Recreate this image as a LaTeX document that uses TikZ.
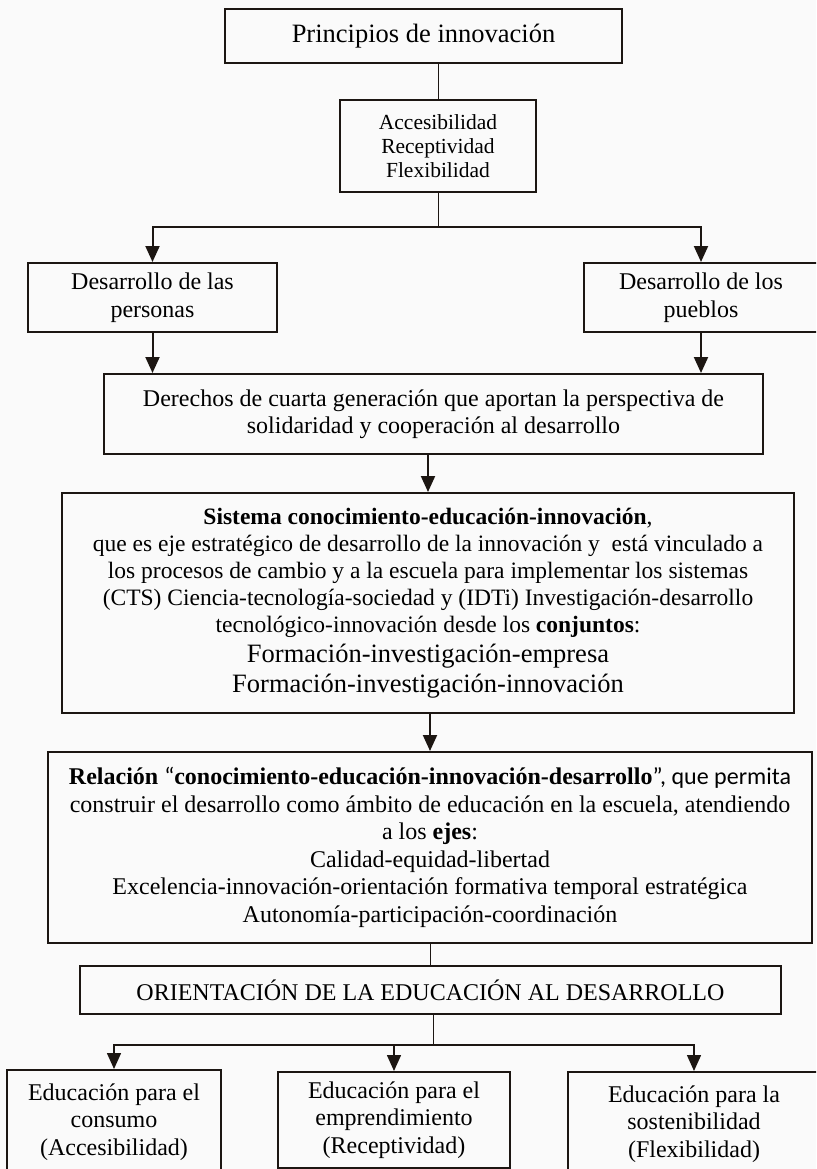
\documentclass[tikz,border=0pt]{standalone}
\usepackage{fontspec}
\setmainfont{Liberation Serif}
\newfontfamily\calfont{Carlito}
\usepackage{tikz}
\usetikzlibrary{arrows.meta}
\definecolor{edge}{RGB}{28,22,18}
\definecolor{paper}{RGB}{250,250,250}

\begin{document}
\begin{tikzpicture}[x=1pt,y=-1pt,
  box/.style={draw=edge, line width=2pt, align=center, inner sep=0pt,
    font=\fontsize{24}{27.5}\selectfont},
  arr/.style={draw=edge, line width=2pt, -{Triangle[width=14pt,length=16pt]}},
  link/.style={draw=edge, line width=1pt}]
\fill[paper] (0,0) rectangle (816,1169);
\useasboundingbox (0,0) rectangle (816,1169);
\clip (0,0) rectangle (816,1169);

\node[box, minimum width=397, minimum height=54, font=\fontsize{26.5}{30}\selectfont] (prin) at (423.5,36) {Principios de innovación};
\node[box, minimum width=196, minimum height=92, font=\fontsize{21.5}{24}\selectfont] (ejes) at (438,146) {Accesibilidad\\Receptividad\\Flexibilidad};
\node[box, minimum width=249, minimum height=69, font=\fontsize{24}{28}\selectfont] (pers) at (152.5,297.5) {Desarrollo de las\\personas};
\node[box, minimum width=234, minimum height=69, font=\fontsize{24}{28}\selectfont] (pueb) at (701,297.5) {Desarrollo de los\\pueblos};
\node[box, minimum width=659, minimum height=80, font=\fontsize{24}{27}\selectfont] (dere) at (433.5,414) {Derechos de cuarta generación que aportan la perspectiva de\\solidaridad y cooperación al desarrollo};
\node[box, minimum width=732, minimum height=220, font=\fontsize{23.5}{27}\selectfont] (sist) at (428,603) {\textbf{Sistema conocimiento-educación-innovación},\\
  que es eje estratégico de desarrollo de la innovación y \ está vinculado a\\
  los procesos de cambio y a la escuela para implementar los sistemas\\
  (CTS) Ciencia-tecnología-sociedad y (IDTi) Investigación-desarrollo\\
  tecnológico-innovación desde los \textbf{conjuntos}:\\[3pt]
  {\fontsize{26.5}{30}\selectfont Formación-investigación-empresa}\\[3pt]
  {\fontsize{26.5}{30}\selectfont Formación-investigación-innovación}};
\node[box, minimum width=764, minimum height=191] (rela) at (430,847.5) {\textbf{Relación} {\calfont “}\textbf{conocimiento-educación-innovación-desarrollo}{\calfont ”, que permita}\\
  construir el desarrollo como ámbito de educación en la escuela, atendiendo\\
  a los \textbf{ejes}:\\
  Calidad-equidad-libertad\\
  Excelencia-innovación-orientación formativa temporal estratégica\\
  Autonomía-participación-coordinación};
\node[box, minimum width=701, minimum height=48] (orie) at (430.5,990) {ORIENTACIÓN DE LA EDUCACIÓN AL DESARROLLO};
\node[box, minimum width=214, minimum height=104] (cons) at (114,1122) {Educación para el\\consumo\\(Accesibilidad)};
\node[box, minimum width=232, minimum height=96] (empr) at (394,1120) {Educación para el\\emprendimiento\\(Receptividad)};
\node[box, minimum width=252, minimum height=104] (sost) at (694,1124) {Educación para la\\sostenibilidad\\(Flexibilidad)};

\coordinate (fork) at (438,227);
\coordinate (fork2) at (433,1045);

\draw[link] (ejes.north) -- (ejes.north |- prin.south);
\draw[link] (ejes.south) -- (fork);
\draw[arr] (fork) -| (pers.north);
\draw[arr] (fork) -| (pueb.north);
\draw[arr] (pers.south) -- (pers.south |- dere.north);
\draw[arr] (pueb.south) -- (pueb.south |- dere.north);
\draw[arr] (sist.north |- dere.south) -- (sist.north);
\draw[arr] (rela.north |- sist.south) -- (rela.north);
\draw[link] (orie.north |- rela.south) -- (orie.north);
\draw[link] (orie.south -| fork2) -- (fork2);
\draw[arr, line width=1.5pt] (fork2) -| (cons.north);
\draw[arr, line width=1.5pt] (fork2) -| (empr.north);
\draw[arr, line width=1.5pt] (fork2) -| (sost.north);
\end{tikzpicture}
\end{document}
